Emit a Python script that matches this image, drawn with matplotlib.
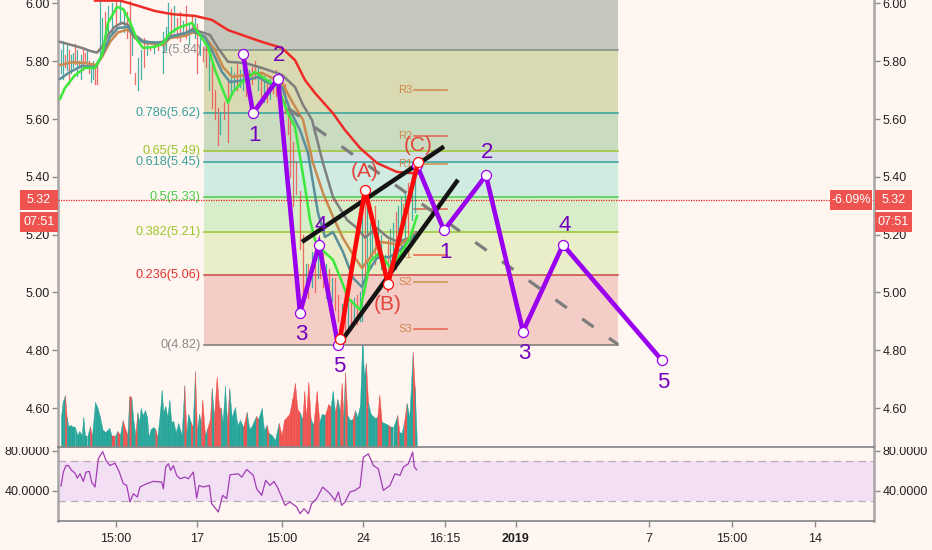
"""plot.py - Elliott wave chart with fib retracement, volume and RSI."""
import numpy as np
import matplotlib
matplotlib.use("Agg")
import matplotlib.pyplot as plt
from matplotlib.patches import Rectangle

plt.rcParams["font.family"] = ["Liberation Sans", "DejaVu Sans"]

W, H = 932, 550
BG = "#fff6f1"
TEAL = "#26a69a"
RED = "#ef5350"
PURPLE = "#9900ef"

# x axis is a running bar number
x_ticks = [115.5, 197, 281.5, 363, 445, 516, 649, 732, 815]
x_labels = ["15:00", "17", "15:00", "24", "16:15", "2019", "7", "15:00", "14"]
price_ticks = [4.6, 4.8, 5.0, 5.2, 5.4, 5.6, 5.8, 6.0]
rsi_ticks = [40, 80]

# fib retracement
fib_names = ["1", "0.786", "0.65", "0.618", "0.5", "0.382", "0.236", "0"]
fib_prices = [5.84, 5.62, 5.49, 5.45, 5.33, 5.21, 5.06, 4.82]
fib_text = ["#8a8a8a", "#3aa39b", "#9ac62d", "#3aa39b", "#4ccb4c", "#9ac62d", "#e0352f", "#8a8a8a"]
fib_line = ["#7f8f82", "#2fa39b", "#9ac62d", "#2fa39b", "#4ccb4c", "#9ac62d", "#c9483e", "#777777"]
fib_fill = ["#d9d9b2", "#c9dcc0", "#d2e0e4", "#d0ece0", "#d8edc9", "#e9eec8", "#f5cdc7"]
fib_top_fill = "#c4c8bc"
fib_start, fib_end = 204, 618

# pivots
pivot_names = ["R3", "R2", "R1", "P", "S1", "S2", "S3"]
pivot_prices = [5.70, 5.54, 5.445, 5.29, 5.13, 5.035, 4.875]
pivot_colors = ["#d0884a", "#e8604a", "#d0884a", "#e8604a", "#e8604a", "#c8964f", "#e8604a"]

# candles (wicks only, they are about a pixel wide here)
candle_x = [61, 63, 65, 67, 69, 71, 73, 75, 77, 79, 81, 83, 85, 87, 89, 91, 93, 95, 97, 100, 102, 105, 108,
            112, 116, 120, 124, 127, 130, 132, 135, 138, 141, 144, 147, 150, 154, 158, 163, 166, 168, 171,
            174, 177, 180, 183, 186, 189, 192, 195, 197, 200, 203, 206, 209, 212, 215, 218, 220, 224, 228,
            231, 234, 237, 240, 243, 246, 249, 252, 255, 258, 261, 264, 267, 270, 273, 276, 280, 285, 288,
            290, 293, 296, 300, 303, 306, 308, 312, 315, 318, 320, 323, 326, 329, 332, 335, 338, 342, 345,
            348, 351, 354, 357, 360, 362, 365, 367, 370, 372, 375, 378, 381, 385, 388, 390, 393, 396, 398,
            401, 405, 408, 412, 415]
candle_low = [5.76, 5.74, 5.78, 5.77, 5.72, 5.76, 5.78, 5.79, 5.75, 5.78, 5.74, 5.77, 5.80, 5.79, 5.76, 5.73,
              5.74, 5.72, 5.72, 5.82, 5.84, 5.86, 5.90, 5.90, 5.92, 5.93, 5.90, 5.88, 5.76, 5.82, 5.72, 5.70,
              5.74, 5.78, 5.82, 5.84, 5.83, 5.84, 5.76, 5.84, 5.88, 5.89, 5.90, 5.88, 5.87, 5.89, 5.88, 5.86,
              5.90, 5.88, 5.76, 5.82, 5.80, 5.78, 5.70, 5.64, 5.60, 5.51, 5.55, 5.60, 5.52, 5.68, 5.70, 5.70,
              5.71, 5.70, 5.68, 5.70, 5.72, 5.74, 5.70, 5.68, 5.66, 5.66, 5.67, 5.69, 5.68, 5.66, 5.62, 5.55,
              5.40, 5.30, 5.34, 5.15, 4.95, 5.00, 4.98, 5.02, 5.00, 5.05, 5.05, 5.02, 4.98, 4.95, 4.97, 4.94,
              4.90, 4.86, 4.83, 4.88, 4.87, 4.90, 4.89, 4.90, 4.90, 5.05, 5.05, 5.12, 5.12, 5.10, 5.12, 5.08,
              5.03, 5.06, 5.05, 5.10, 5.08, 5.10, 5.16, 5.15, 5.20, 5.25, 5.28]
candle_high = [5.84, 5.87, 5.82, 5.86, 5.84, 5.82, 5.83, 5.86, 5.84, 5.80, 5.82, 5.85, 5.83, 5.84, 5.80, 5.78,
               5.80, 5.79, 5.80, 6.01, 5.95, 5.97, 5.99, 6.00, 6.01, 6.01, 5.98, 5.97, 6.01, 5.92, 5.76, 5.81,
               5.84, 5.88, 5.87, 5.85, 5.87, 5.86, 5.90, 5.92, 6.00, 5.98, 5.99, 5.95, 5.97, 5.94, 5.99, 5.93,
               5.96, 5.95, 5.93, 5.88, 5.85, 5.86, 5.84, 5.79, 5.70, 5.64, 5.62, 5.66, 5.73, 5.78, 5.76, 5.79,
               5.77, 5.78, 5.80, 5.77, 5.78, 5.80, 5.78, 5.76, 5.75, 5.72, 5.74, 5.75, 5.77, 5.74, 5.72, 5.66,
               5.63, 5.52, 5.45, 5.35, 5.20, 5.10, 5.10, 5.14, 5.18, 5.17, 5.17, 5.14, 5.10, 5.08, 5.05, 5.05,
               4.99, 4.96, 5.00, 4.98, 4.97, 4.98, 4.99, 5.00, 5.28, 5.32, 5.33, 5.24, 5.25, 5.30, 5.25, 5.20,
               5.13, 5.18, 5.22, 5.24, 5.28, 5.30, 5.33, 5.35, 5.38, 5.40, 5.45]
candle_up = [1, 1, 0, 1, 0, 1, 1, 0, 1, 0, 1, 0, 0, 1, 0, 1, 1, 0, 0, 1, 1, 0, 1,
             1, 0, 1, 1, 0, 0, 1, 0, 1, 1, 0, 1, 0, 1, 0, 1, 1, 1, 0,
             1, 0, 0, 1, 0, 1, 0, 1, 0, 1, 0, 0, 1, 0, 0, 0, 1, 0, 0,
             1, 1, 0, 1, 1, 0, 1, 0, 0, 1, 0, 1, 0, 1, 0, 0, 1, 0, 0,
             0, 0, 0, 0, 0, 1, 0, 1, 0, 1, 0, 0, 1, 0, 1, 0, 0, 1, 0,
             1, 0, 1, 0, 1, 1, 0, 1, 1, 1, 0, 1, 1, 1, 0, 1, 1, 0, 1,
             1, 1, 0, 1, 1]

# moving averages
red_x = [95, 110, 120, 135, 155, 172, 195, 212, 228, 242, 262, 282, 295, 305, 315, 333, 345, 360, 377, 397, 412, 418]
red_p = [6.01, 6.01, 6.01, 5.995, 5.974, 5.963, 5.957, 5.943, 5.908, 5.891, 5.867, 5.846, 5.804, 5.735, 5.69, 5.62,
         5.562, 5.50, 5.448, 5.417, 5.413, 5.413]
green_x = [60, 65, 75, 85, 95, 102, 108, 117, 123, 130, 137, 143, 155, 163, 170, 178, 192, 198, 208, 215, 222, 228,
           233, 242, 255, 267, 278, 288, 295, 300, 305, 310, 315, 320, 333, 342, 348, 360, 365, 370, 380, 390, 400,
           410, 417]
green_p = [5.67, 5.708, 5.752, 5.777, 5.777, 5.822, 5.933, 5.988, 5.981, 5.936, 5.874, 5.846, 5.85, 5.863, 5.897,
           5.915, 5.933, 5.90, 5.85, 5.77, 5.708, 5.656, 5.694, 5.728, 5.763, 5.735, 5.711, 5.62, 5.573, 5.469,
           5.365, 5.251, 5.182, 5.154, 5.113, 5.036, 4.981, 4.94, 5.016, 5.106, 5.14, 5.085, 5.13, 5.189, 5.265]
gray_x = [60, 72, 82, 90, 97, 102, 108, 115, 122, 128, 135, 143, 155, 163, 172, 185, 193, 202, 210, 218, 228, 245,
          262, 282, 295, 303, 312, 323, 333, 347, 357, 365, 377, 388, 398, 410, 416]
gray_p = [5.867, 5.856, 5.846, 5.836, 5.83, 5.85, 5.89, 5.92, 5.933, 5.926, 5.89, 5.87, 5.863, 5.868, 5.888, 5.897,
          5.912, 5.90, 5.891, 5.846, 5.798, 5.794, 5.777, 5.753, 5.711, 5.649, 5.597, 5.448, 5.33, 5.251, 5.223,
          5.19, 5.223, 5.19, 5.175, 5.189, 5.209]
orange_x = [60, 72, 87, 96, 102, 110, 118, 128, 135, 145, 163, 170, 185, 193, 205, 215, 223, 232, 248, 262, 282,
            293, 303, 313, 323, 333, 343, 355, 362, 370, 380, 390, 400, 415]
orange_p = [5.787, 5.797, 5.793, 5.787, 5.815, 5.867, 5.90, 5.91, 5.88, 5.863, 5.856, 5.88, 5.888, 5.90, 5.884,
            5.839, 5.78, 5.746, 5.753, 5.76, 5.725, 5.655, 5.597, 5.448, 5.344, 5.262, 5.188, 5.12, 5.085, 5.12,
            5.175, 5.171, 5.164, 5.205]
blue_x = [60, 70, 82, 96, 102, 110, 118, 128, 135, 143, 163, 170, 185, 193, 205, 213, 222, 230, 247, 258, 268, 282,
          290, 300, 308, 313, 318, 325, 333, 343, 353, 362, 368, 377, 390, 400, 415]
blue_p = [5.739, 5.763, 5.784, 5.78, 5.822, 5.884, 5.915, 5.919, 5.884, 5.867, 5.863, 5.884, 5.897, 5.905, 5.884,
          5.829, 5.763, 5.728, 5.735, 5.746, 5.725, 5.711, 5.631, 5.562, 5.483, 5.379, 5.275, 5.192, 5.209, 5.14,
          5.05, 5.019, 5.071, 5.12, 5.123, 5.147, 5.20]

# drawn wave counts
wave1_x = [243, 253, 278, 300, 319, 338]
wave1_p = [5.825, 5.62, 5.74, 4.93, 5.165, 4.82]
wave1_labels = ["", "1", "2", "3", "4", "5"]
wave2_x = [417, 444, 486, 523, 563, 662]
wave2_p = [5.44, 5.215, 5.405, 4.865, 5.165, 4.765]
wave2_labels = ["", "1", "2", "3", "4", "5"]
abc_x = [340, 365, 388, 418]
abc_p = [4.84, 5.355, 5.03, 5.45]
abc_labels = ["", "(A)", "(B)", "(C)"]
channel_upper_x = [302, 444]
channel_upper_p = [5.175, 5.505]
channel_lower_x = [341, 458]
channel_lower_p = [4.83, 5.39]
trend_x = [288, 618]
trend_p = [5.638, 4.82]
last_price = 5.32

# volume, x read at 3 times the bar scale
vol_x3 = [183, 188, 195, 200, 205, 212, 218, 225, 232, 238, 245, 250, 255, 262, 270, 276, 285, 292, 300, 308, 316,
          328, 335, 345, 352, 360, 368, 375, 382, 388, 394, 400, 406, 412, 418, 422, 428, 435, 441, 446, 452, 460,
          466, 472, 480, 485, 490, 496, 502, 508, 514, 520, 527, 535, 545, 553, 559, 565, 572, 578, 585, 591, 597,
          603, 607, 615, 622, 630, 635, 642, 650, 657, 662, 668, 675, 681, 688, 695, 705, 712, 720, 730, 740, 748,
          755, 768, 775, 785, 792, 800, 806, 815, 825, 836, 845, 852, 860, 868, 877, 885, 892, 900, 907, 913, 918,
          925, 932, 940, 950, 958, 965, 975, 985, 992, 998, 1005, 1012, 1020, 1025, 1030, 1035, 1042, 1050, 1058,
          1065, 1072, 1080, 1087, 1092, 1098, 1104, 1112, 1125, 1132, 1138, 1145, 1153, 1165, 1172, 1180, 1192,
          1198, 1205, 1212, 1220, 1228, 1238, 1244, 1250]
vol_h = [30, 45, 52, 30, 21, 22, 20, 20, 12, 16, 12, 30, 11, 11, 21, 11, 45, 40, 30, 17, 15,
         19, 11, 11, 16, 12, 27, 19, 12, 51, 50, 27, 12, 35, 25, 39, 32, 37, 30, 10, 18, 20,
         18, 10, 35, 57, 35, 41, 30, 47, 25, 26, 15, 24, 12, 62, 15, 33, 25, 20, 76, 15, 33,
         25, 47, 12, 19, 28, 59, 30, 70, 40, 39, 25, 61, 25, 59, 30, 40, 22, 27, 20, 35, 18,
         21, 31, 28, 39, 17, 22, 14, 12, 7, 24, 12, 27, 30, 33, 48, 64, 38, 34, 28, 56, 30,
         65, 28, 22, 56, 25, 33, 32, 43, 40, 56, 35, 48, 36, 64, 30, 75, 32, 27, 28,
         37, 30, 42, 110, 70, 84, 45, 33, 29, 30, 52, 25, 24, 22, 20, 20, 32,
         15, 14, 25, 44, 30, 95, 60, 10]
vol_up = [1, 1, 0, 1, 1, 1, 1, 1, 1, 1, 1, 1, 1, 1, 0, 1, 1, 1, 1, 1, 1,
          1, 0, 1, 0, 1, 0, 0, 1, 0, 1, 1, 0, 1, 1, 1, 1, 1, 1, 1, 1, 1,
          0, 1, 1, 1, 1, 1, 1, 1, 1, 1, 1, 1, 1, 0, 1, 1, 0, 1, 0, 1, 1,
          0, 0, 1, 0, 0, 1, 0, 0, 0, 1, 1, 1, 0, 1, 1, 1, 1, 1, 0, 1, 1,
          1, 0, 1, 1, 1, 0, 1, 1, 1, 0, 0, 0, 0, 0, 0, 0, 0, 1, 0, 0, 0,
          0, 1, 0, 0, 1, 1, 0, 0, 1, 1, 0, 1, 0, 0, 1, 0, 1, 1, 0,
          1, 1, 1, 1, 1, 0, 1, 1, 1, 0, 0, 1, 1, 0, 1, 1, 0,
          1, 1, 0, 1, 1, 0, 1, 0]

# rsi
rsi_x3 = [183, 190, 198, 205, 215, 225, 232, 240, 250, 258, 268, 275, 285, 295, 308, 318, 330, 345, 358, 370, 380,
          390, 400, 412, 420, 440, 460, 485, 490, 497, 505, 512, 520, 530, 540, 555, 565, 580, 590, 597, 610, 628,
          635, 655, 668, 680, 690, 715, 725, 740, 760, 770, 785, 797, 810, 822, 832, 845, 855, 870, 890, 900, 912,
          925, 935, 950, 968, 990, 1005, 1015, 1025, 1035, 1050, 1065, 1080, 1090, 1105, 1120, 1135, 1150, 1170,
          1185, 1200, 1210, 1225, 1238, 1243, 1250]
rsi = [44.9, 58.7, 65.2, 65.2, 60.3, 57.7, 52.7, 57, 49.5, 58.7, 59.3, 48.8, 43.9, 71.8, 79, 70.1, 65.2, 67.5, 58.7,
       47.2, 45.5, 29.1, 37.3, 34, 43.9, 47.2, 49.5, 48.8, 42.2, 63.6, 66.9, 60.3, 65.2, 55.4, 52.1, 53.7, 52.1, 58.7,
       33, 45.5, 43.9, 45.5, 27.5, 19.2, 35.7, 32.4, 56, 57, 53.7, 61.3, 55.4, 42.2, 35.7, 50.4, 45.5, 49.5, 43.9, 34,
       25.8, 29.1, 24.2, 17.6, 22.5, 17.6, 27.5, 32.4, 43.9, 37.3, 30.7, 39, 25.8, 29.1, 39, 40.6, 43.9, 73.4, 76.7,
       65.2, 61.9, 40.6, 45.5, 57, 55.4, 63.6, 66.9, 78.4, 63.6, 61]
rsi_upper, rsi_lower = 70, 30

fig = plt.figure(figsize=(W / 100, H / 100), dpi=100, facecolor=BG)


def fx(px):
    return px / W


def fy(py):
    return 1 - py / H


ax = fig.add_axes([fx(58), fy(447), fx(874) - fx(58), fy(0) - fy(447)])
ax_vol = ax.twinx()
ax_rsi = fig.add_axes([fx(58), fy(521), fx(874) - fx(58), fy(447) - fy(521)], sharex=ax)

ax.set_zorder(2)
ax.patch.set_visible(False)
ax_vol.set_zorder(1)
ax_vol.patch.set_visible(False)
ax_rsi.patch.set_visible(False)

ax.set_xlim(58, 874)
ax.set_ylim(4.4654, 6.012)
ax_vol.set_ylim(0, 447)
ax_vol.axis("off")
ax_rsi.set_ylim(10.3, 83.5)

# fib boxes
ax.axhspan(fib_prices[0], 6.1, xmin=(fib_start - 58) / 816, xmax=(fib_end - 58) / 816, color=fib_top_fill, lw=0, zorder=0)
for i, col in enumerate(fib_fill):
    ax.fill_between([fib_start, fib_end], fib_prices[i + 1], fib_prices[i], color=col, lw=0, zorder=0)
for i, p in enumerate(fib_prices):
    ax.plot([fib_start, fib_end], [p, p], color=fib_line[i], lw=1.1, zorder=1)
    ax.text(fib_start - 3, p, f"{fib_names[i]}({p:.2f})", color=fib_text[i], fontsize=9.2, ha="right", va="center", zorder=1)

# pivots
for name, p, col in zip(pivot_names, pivot_prices, pivot_colors):
    ax.plot([414, 447], [p, p], color=col, lw=1.1, zorder=1.5)
    ax.text(405, p, name, color="#d0884a", fontsize=8, ha="center", va="center", zorder=1.5)

# candles
for x, lo, hi, up in zip(candle_x, candle_low, candle_high, candle_up):
    ax.plot([x, x], [lo, hi], color=TEAL if up else RED, lw=0.9, alpha=0.85, zorder=2)

# moving averages
ax.plot(gray_x, gray_p, color="#7f7f7f", lw=1.8, zorder=3)
ax.plot(orange_x, orange_p, color="#c98a50", lw=1.8, zorder=3)
ax.plot(blue_x, blue_p, color="#5b8f99", lw=1.8, zorder=3)
ax.plot(green_x, green_p, color="#3ce83c", lw=1.8, zorder=3.1)
ax.plot(red_x, red_p, color="#ee2b27", lw=1.8, zorder=3.1)

# last price
ax.axhline(last_price, color="#ef2020", lw=0.9, ls=(0, (1, 1)), zorder=3.2)

# trend lines
ax.plot(trend_x, trend_p, color="#7d7d7d", lw=2.3, ls=(0, (4.4, 5.9)), zorder=4)
ax.plot(channel_upper_x, channel_upper_p, color="#141414", lw=3.2, solid_capstyle="butt", zorder=4.1)
ax.plot(channel_lower_x, channel_lower_p, color="#141414", lw=3.2, solid_capstyle="butt", zorder=4.1)

# waves
for xs, ps in [(wave1_x, wave1_p), (wave2_x, wave2_p)]:
    ax.plot(xs, ps, color=PURPLE, lw=3.3, marker="o", ms=7.2, mfc="white", mec=PURPLE, mew=0.9, solid_joinstyle="miter", zorder=5)
ax.plot(abc_x, abc_p, color="#ff0808", lw=3.3, marker="o", ms=7.2, mfc="white", mec="#ff0808", mew=0.9, solid_joinstyle="miter", zorder=5.1)

label_offs = {"1": -22, "2": 23, "3": -22, "4": 19, "5": -22}
for xs, ps, labels in [(wave1_x, wave1_p, wave1_labels), (wave2_x, wave2_p, wave2_labels)]:
    for x, p, lab in zip(xs, ps, labels):
        if lab:
            ax.annotate(lab, (x, p), xytext=(1, label_offs[lab] * 0.72), textcoords="offset points", color="#7400bd",
                        fontsize=16, ha="center", va="center", zorder=6)
abc_offs = {"(A)": 13, "(B)": -15, "(C)": 12}
for x, p, lab in zip(abc_x, abc_p, abc_labels):
    if lab:
        ax.annotate(lab, (x, p), xytext=(0, abc_offs[lab]), textcoords="offset points", color="#e2433c",
                    fontsize=15, ha="center", va="center", zorder=6)

# volume
vol_xs = np.array(vol_x3) / 3
for i in range(len(vol_xs) - 1):
    col = TEAL if vol_up[i] else RED
    ax_vol.fill_between(vol_xs[i:i + 2], 0, vol_h[i:i + 2], facecolor=col, edgecolor=col, lw=0.3)

# rsi
ax_rsi.axhspan(rsi_lower, rsi_upper, color="#f3dff3", lw=0)
ax_rsi.axhline(rsi_upper, color="#b9aab9", lw=0.9, ls=(0, (6, 4)))
ax_rsi.axhline(rsi_lower, color="#b9aab9", lw=0.9, ls=(0, (6, 4)))
ax_rsi.plot(np.array(rsi_x3) / 3, rsi, color="#a13cb5", lw=0.9)

# axes cosmetics
ax.set_yticks(price_ticks)
ax.set_yticklabels([f"{p:.2f}" for p in price_ticks])
ax_rsi.set_yticks(rsi_ticks)
ax_rsi.set_yticklabels([f"{v:.4f}" for v in rsi_ticks])
ax_rsi.set_xticks(x_ticks)
labels = ax_rsi.set_xticklabels(x_labels)
labels[5].set_fontweight("bold")
ax.tick_params(axis="x", bottom=False, labelbottom=False)

for a in (ax, ax_rsi):
    a.tick_params(axis="y", left=True, right=True, labelleft=True, labelright=True, length=4, width=1,
                  color="#8a8a8a", labelsize=9, labelcolor="#222222", pad=2)
    for side in ("left", "right"):
        a.spines[side].set_color("#a6a6a6")
        a.spines[side].set_linewidth(1.8)
    a.spines["top"].set_visible(False)
    a.spines["bottom"].set_color("#8a8a8a")
    a.spines["bottom"].set_linewidth(1.3)
ax_rsi.tick_params(axis="x", length=4, width=1, color="#8a8a8a", labelsize=9, labelcolor="#222222", pad=5)
ax.spines["bottom"].set_zorder(10)

# rsi tick labels are cut by the pane edge in the chart
for x0, x1 in [(0, 56), (876, W)]:
    fig.add_artist(Rectangle((fx(x0), fy(447)), fx(x1) - fx(x0), fy(436) - fy(447), transform=fig.transFigure,
                             facecolor=BG, edgecolor="none", zorder=15))


def price_box(x0, y0, x1, y1, text):
    fig.add_artist(Rectangle((fx(x0), fy(y1)), fx(x1) - fx(x0), fy(y0) - fy(y1), transform=fig.transFigure,
                             facecolor=RED, edgecolor="none", zorder=20))
    fig.text(fx((x0 + x1) / 2), fy((y0 + y1) / 2), text, color="white", fontsize=9, ha="center", va="center", zorder=21)


price_box(20, 190, 58, 209.5, "5.32")
price_box(20, 212, 58, 232, "07:51")
price_box(830, 190, 872, 210, "-6.09%")
price_box(875, 190, 912, 210, "5.32")
price_box(875, 212, 912, 232, "07:51")

fig.savefig("out.png", dpi=100, facecolor=BG)
